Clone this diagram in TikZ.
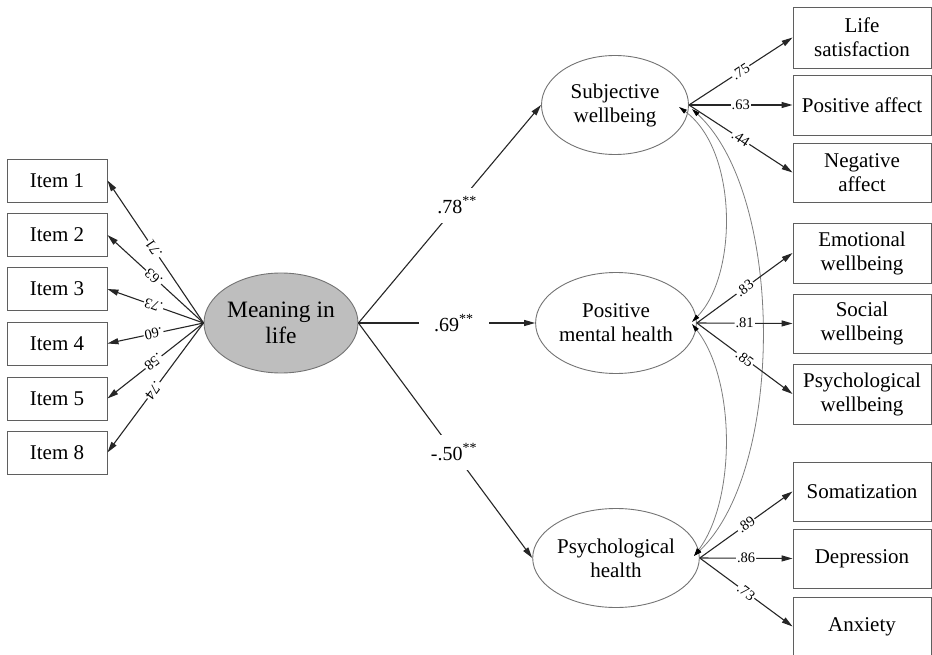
\documentclass[tikz,border=0pt]{standalone}
\usepackage{fontspec}
\setmainfont{Liberation Serif}
\usetikzlibrary{arrows.meta,shapes.geometric}
\definecolor{boxgray}{RGB}{95,95,95}
\definecolor{ellgray}{RGB}{115,115,115}
\definecolor{meanfill}{RGB}{190,190,190}
\definecolor{covgray}{RGB}{125,125,125}
\begin{document}
\begin{tikzpicture}[x=1pt,y=-1pt,
  box/.style={draw=boxgray, line width=0.9pt, rectangle, inner sep=0pt,
    minimum width=100pt, minimum height=43pt, align=center,
    font=\fontsize{21}{24}\selectfont},
  rbox/.style={box, minimum width=138pt, minimum height=59pt},
  lat/.style={draw=ellgray, line width=0.9pt, ellipse, inner sep=0pt,
    minimum width=148pt, minimum height=100pt, align=center,
    font=\fontsize{21}{24}\selectfont},
  arr/.style={line width=1.1pt, draw=black!85, -{Triangle[length=11pt,width=6pt]}},
  cov/.style={draw=covgray, line width=0.8pt,
    {Triangle[length=8pt,width=4.5pt,color=black]}-{Triangle[length=8pt,width=4.5pt,color=black]}},
  llab/.style={sloped, allow upside down, fill=white, inner sep=1pt, pos=0.52,
    font=\fontsize{14.5}{16}\selectfont},
  rlab/.style={sloped, fill=white, inner sep=1pt, pos=0.5,
    font=\fontsize{14.5}{16}\selectfont},
  mlab/.style={fill=white, inner xsep=15pt, inner ysep=9pt,
    font=\fontsize{20}{22}\selectfont}
]
\useasboundingbox (0,0) rectangle (932,655);

% left items
\node[box] (i1) at (57,180.5) {Item 1};
\node[box] (i2) at (57,235) {Item 2};
\node[box] (i3) at (57,289) {Item 3};
\node[box] (i4) at (57,343.5) {Item 4};
\node[box] (i5) at (57,398.5) {Item 5};
\node[box] (i8) at (57,452.5) {Item 8};

% central latent
\node[lat, fill=meanfill, minimum width=154pt, minimum height=100pt,
  font=\fontsize{23.5}{26}\selectfont] (mean) at (281,323) {Meaning in\\life};

% right latents
\node[lat, minimum width=147pt, minimum height=99pt] (sw) at (615,105) {Subjective\\wellbeing};
\node[lat, minimum width=149pt, minimum height=101pt] (pmh) at (616,323) {Positive\\mental health};
\node[lat, minimum width=149pt, minimum height=99pt] (ph) at (616,558) {Psychological\\health};

% right indicators
\node[rbox, minimum height=61pt] (ls) at (862,37.5) {Life\\satisfaction};
\node[rbox, minimum height=60pt] (pa) at (862,105) {Positive affect};
\node[rbox] (na) at (862,172.5) {Negative\\affect};
\node[rbox, minimum height=60pt] (ew) at (862,253) {Emotional\\wellbeing};
\node[rbox] (sow) at (862,323.5) {Social\\wellbeing};
\node[rbox, minimum height=60pt] (pw) at (862,394) {Psychological\\wellbeing};
\node[rbox] (so) at (862,491.5) {Somatization};
\node[rbox] (de) at (862,558.5) {Depression};
\node[rbox] (an) at (862,626.5) {Anxiety};

% loadings of meaning in life
\draw[arr] (mean.west) -- node[llab] {.71} (i1.east);
\draw[arr] (mean.west) -- node[llab] {.63} (i2.east);
\draw[arr] (mean.west) -- node[llab] {.73} (i3.east);
\draw[arr] (mean.west) -- node[llab] {.60} (i4.east);
\draw[arr] (mean.west) -- node[llab] {.58} (i5.east);
\draw[arr] (mean.west) -- node[llab] {.74} (i8.east);

% structural paths
\draw[arr] (mean.east) -- node[mlab, pos=0.54] {.78\textsuperscript{**}} (sw.west);
\draw[arr] (mean.east) -- node[mlab, pos=0.54] {.69\textsuperscript{**}} (pmh.west);
\draw[arr] (mean.east) -- node[mlab, pos=0.55] {-.50\textsuperscript{**}} (ph.west);

% covariances
\coordinate (swa) at (679,107);
\coordinate (swb) at (692,109);
\coordinate (pmha) at (692,322);
\coordinate (pmhb) at (692,324);
\coordinate (pha) at (694,556);
\draw[cov] (swa) .. controls (738,150) and (738,275) .. (pmha);
\draw[cov] (pmhb) .. controls (736,380) and (736,500) .. (pha);
\draw[cov] (swb) .. controls (785,195) and (785,470) .. (pha);

% loadings of right latents
\draw[arr] (sw.east) -- node[rlab] {.75} (ls.west);
\draw[arr] (sw.east) -- node[rlab] {.63} (pa.west);
\draw[arr] (sw.east) -- node[rlab] {.44} (na.west);
\draw[arr] (pmh.east) -- node[rlab] {.83} (ew.west);
\draw[arr] (pmh.east) -- node[rlab] {.81} (sow.west);
\draw[arr] (pmh.east) -- node[rlab] {.85} (pw.west);
\draw[arr] (ph.east) -- node[rlab] {.89} (so.west);
\draw[arr] (ph.east) -- node[rlab] {.86} (de.west);
\draw[arr] (ph.east) -- node[rlab] {.73} (an.west);
\end{tikzpicture}
\end{document}
